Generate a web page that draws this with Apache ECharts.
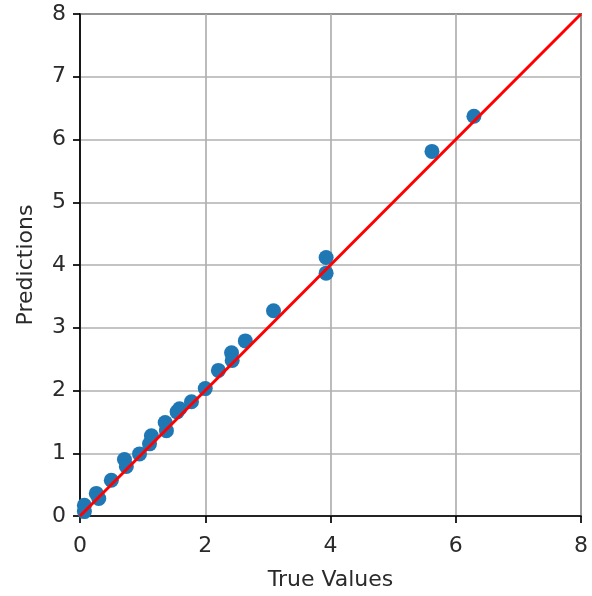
<!DOCTYPE html>
<html>
<head>
<meta charset="utf-8">
<script src="https://cdn.jsdelivr.net/npm/echarts@6/dist/echarts.min.js"></script>
<style>
html,body{margin:0;padding:0;background:#fff;}
#chart{width:592px;height:596px;}
</style>
</head>
<body>
<div id="chart"></div>
<script>
var trueValues = [0.07, 0.07, 0.26, 0.30, 0.50, 0.71, 0.74, 0.95, 1.14, 1.11, 1.36, 1.38, 1.59, 1.55, 1.78, 2.00, 2.21, 2.42, 2.43, 2.64, 3.09, 3.93, 3.93, 5.62, 6.29];
var predictions = [0.17, 0.07, 0.36, 0.28, 0.57, 0.90, 0.79, 0.99, 1.28, 1.15, 1.49, 1.36, 1.71, 1.66, 1.82, 2.03, 2.32, 2.60, 2.48, 2.79, 3.27, 4.12, 3.87, 5.81, 6.37];
var refLineX = [0, 8];
var refLineY = [0, 8];
var xTicks = [0, 2, 4, 6, 8];
var yTicks = [0, 1, 2, 3, 4, 5, 6, 7, 8];
var xLabel = 'True Values';
var yLabel = 'Predictions';

var chart = echarts.init(document.getElementById('chart'), null, {renderer: 'canvas'});
var font = 'DejaVu Sans';
var axisCommon = {
  type: 'value',
  nameLocation: 'middle',
  nameTextStyle: {fontFamily: font, fontSize: 22, color: '#2a2a2a'},
  axisLine: {show: true, lineStyle: {color: '#000', width: 1.7}},
  axisTick: {show: true, inside: false, length: 7, lineStyle: {color: '#000', width: 1.7}},
  axisLabel: {fontFamily: font, fontSize: 22, color: '#2a2a2a'},
  splitLine: {show: true, lineStyle: {color: '#b0b0b0', width: 1.7}}
};
var option = {
  animation: false,
  backgroundColor: '#fff',
  grid: {left: 80, right: 11, top: 14, bottom: 79, show: true, borderColor: '#000', borderWidth: 1.7, containLabel: false},
  xAxis: Object.assign({}, axisCommon, {
    name: xLabel, nameGap: 53,
    min: xTicks[0], max: xTicks[xTicks.length - 1], interval: 2,
    axisLabel: Object.assign({}, axisCommon.axisLabel, {margin: 19})
  }),
  yAxis: Object.assign({}, axisCommon, {
    name: yLabel, nameGap: 43,
    min: yTicks[0], max: yTicks[yTicks.length - 1], interval: 1,
    axisLabel: Object.assign({}, axisCommon.axisLabel, {margin: 14})
  }),
  series: [
    {
      type: 'scatter',
      data: trueValues.map(function (v, i) { return [v, predictions[i]]; }),
      symbol: 'circle',
      symbolSize: 15,
      itemStyle: {color: '#1f77b4', opacity: 1},
      z: 2
    },
    {
      type: 'line',
      data: refLineX.map(function (v, i) { return [v, refLineY[i]]; }),
      symbol: 'none',
      lineStyle: {color: '#ff0000', width: 3},
      z: 3
    }
  ]
};
chart.setOption(option);
</script>
</body>
</html>
